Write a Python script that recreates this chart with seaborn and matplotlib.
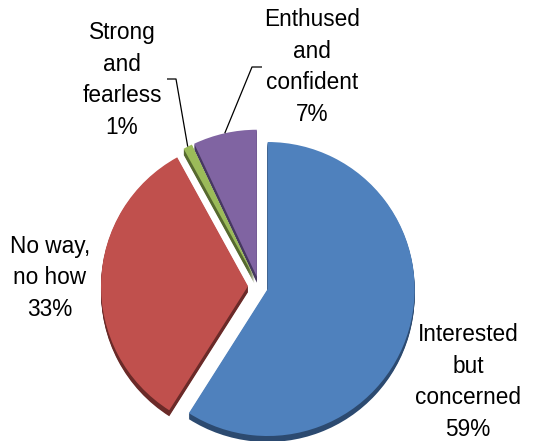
import numpy as np
import matplotlib
matplotlib.use("Agg")
import matplotlib.pyplot as plt
import seaborn as sns

# Survey shares by cyclist type
categories = ["Interested\nbut\nconcerned", "No way,\nno how", "Strong\nand\nfearless", "Enthused\nand\nconfident"]
shares = [59, 33, 1, 7]

face_colors = ["#4F81BD", "#C0504D", "#9BBB59", "#8064A2"]
side_colors = ["#2C4A70", "#6A2A28", "#56692F", "#463860"]
explode = [9, 11, 10, 10]

# label block centres (x, y) and leader elbow offsets
label_pos = [(468, 441 - 382), (50, 441 - 278), (122, 441 - 80), (312, 441 - 67)]
leader = [None, None, (176, 441 - 79, 167), (252, 441 - 67, 262)]

sns.set_theme(style="white")
plt.rcParams["font.family"] = ["Liberation Sans", "DejaVu Sans"]

fig = plt.figure(figsize=(5.41, 4.41), dpi=100)
ax = fig.add_axes([0, 0, 1, 1])

cx, cy, r = 259, 441 - 286.5, 147
depth = 6

# extruded side of the 3-D pie
for d in range(depth, 0, -1):
    ax.pie(shares, explode=explode, colors=side_colors, startangle=90,
           counterclock=False, radius=r, center=(cx, cy - d),
           wedgeprops=dict(linewidth=0, antialiased=True))

wedges, _ = ax.pie(shares, explode=explode, colors=face_colors, startangle=90,
                   counterclock=False, radius=r, center=(cx, cy),
                   wedgeprops=dict(linewidth=0, antialiased=True))

for w, cat, val, pos, ld in zip(wedges, categories, shares, label_pos, leader):
    ax.text(pos[0], pos[1], f"{cat}\n{val}%", ha="center", va="center",
            fontsize=16.3, color="black", linespacing=1.47)
    if ld is not None:
        tm = np.deg2rad((w.theta1 + w.theta2) / 2)
        wx, wy = w.center
        px, py = wx + w.r * np.cos(tm), wy + w.r * np.sin(tm)
        ex, ey, tx = ld
        ax.plot([px, ex, tx], [py, ey, ey], color="black", linewidth=0.9,
                solid_capstyle="butt")

ax.set_xlim(0, 541)
ax.set_ylim(0, 441)
ax.set_aspect("equal")
ax.axis("off")

fig.savefig("out.png", dpi=100, facecolor="white")
